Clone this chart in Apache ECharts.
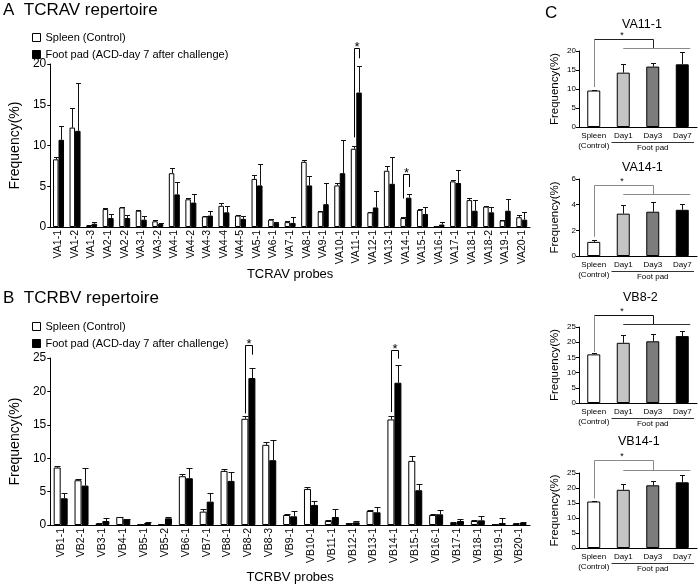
<!DOCTYPE html>
<html><head><meta charset="utf-8">
<script src="https://cdn.jsdelivr.net/npm/echarts@6.0.0/dist/echarts.min.js"></script>
<style>html,body{margin:0;padding:0;background:#fff}#c{width:699px;height:587px}</style>
</head><body><div id="c"></div>
<script>
// ---------- Panel A: TCRAV ----------
const vaCategories = ['VA1-1','VA1-2','VA1-3','VA2-1','VA2-2','VA3-1','VA3-2','VA4-1','VA4-2','VA4-3','VA4-4','VA4-5','VA5-1','VA6-1','VA7-1','VA8-1','VA9-1','VA10-1','VA11-1','VA12-1','VA13-1','VA14-1','VA15-1','VA16-1','VA17-1','VA18-1','VA18-2','VA19-1','VA20-1'];
const vaSpleen      = [8.3,12.2,0.2,2.2,2.4,2.0,0.7,6.6,3.4,1.3,2.6,1.4,5.9,0.9,0.6,8.0,1.9,5.1,9.6,1.8,6.9,1.1,2.1,0.1,5.6,3.3,2.5,0.8,1.2];
const vaSpleenUpper = [8.6,14.6,0.3,2.3,2.5,2.05,0.8,7.2,3.5,1.35,2.9,1.5,6.4,1.0,0.7,8.2,2.0,5.4,9.9,1.9,7.5,1.2,2.2,0.15,5.8,3.6,2.55,0.9,1.5];
const vaFootpad      = [10.7,11.8,0.4,1.1,1.1,0.9,0.4,4.0,3.0,1.4,1.8,1.0,5.1,0.5,0.5,5.1,2.8,6.6,16.5,2.4,5.3,3.6,1.6,0.3,5.4,2.0,1.8,2.0,0.9];
const vaFootpadUpper = [12.4,17.7,0.6,1.6,1.5,1.4,0.5,5.5,4.1,2.0,2.6,1.3,7.7,0.6,1.2,6.2,5.4,10.7,19.8,4.4,8.6,4.0,2.4,0.6,7.0,3.3,2.4,3.4,1.8];
const vaSigCats   = ['VA11-1','VA14-1'];
const vaSigLeft   = [11.0, 3.5];
const vaSigTop    = [22.0, 6.5];
const vaSigRight  = [20.7, 4.9];

// ---------- Panel B: TCRBV ----------
const vbCategories = ['VB1-1','VB2-1','VB3-1','VB4-1','VB5-1','VB5-2','VB6-1','VB7-1','VB8-1','VB8-2','VB8-3','VB9-1','VB10-1','VB11-1','VB12-1','VB13-1','VB14-1','VB15-1','VB16-1','VB17-1','VB18-1','VB19-1','VB20-1'];
const vbSpleen      = [8.6,6.7,0.2,1.2,0.1,0.1,7.3,2.0,8.1,15.9,12.0,1.5,5.4,0.6,0.3,2.1,15.8,9.6,1.5,0.3,0.6,0.1,0.2];
const vbSpleenUpper = [8.8,6.9,0.25,1.25,0.15,0.15,7.6,2.4,8.4,16.3,12.5,1.6,5.7,0.7,0.35,2.2,16.3,10.3,1.6,0.4,0.8,0.15,0.25];
const vbFootpad      = [4.0,5.9,0.6,0.9,0.3,1.0,7.0,3.5,6.6,22.0,9.7,1.3,3.0,1.2,0.4,1.9,21.3,5.2,1.6,0.6,0.7,0.3,0.3];
const vbFootpadUpper = [4.8,8.6,1.1,0.95,0.5,1.15,8.6,4.8,7.9,23.5,12.7,2.1,3.6,2.4,0.6,2.7,23.9,6.2,2.3,0.9,1.4,1.1,0.4];
const vbSigCats  = ['VB8-2','VB14-1'];
const vbSigLeft  = [16.7, 16.9];
const vbSigTop   = [27.0, 26.2];
const vbSigRight = [25.5, 24.9];

// ---------- Panel C ----------
const cGroups = ['Spleen\n(Control)','Day1','Day3','Day7'];
const cTitles = ['VA11-1','VA14-1','VB8-2','VB14-1'];
const va111Mean  = [9.6,14.3,15.9,16.5];
const va111Upper = [9.8,16.6,16.8,19.8];
const va141Mean  = [1.1,3.3,3.45,3.6];
const va141Upper = [1.25,4.0,4.2,4.05];
const vb82Mean   = [16.0,19.8,20.3,22.0];
const vb82Upper  = [16.4,22.3,22.8,23.7];
const vb141Mean  = [15.5,19.4,20.9,21.9];
const vb141Upper = [15.8,21.3,22.2,24.2];
// significance bracket: [left leg bottom, top line, lower line]
const va111Sig = [10.5,23.1,20.9];
const va141Sig = [1.5,5.5,4.8];
const vb82Sig  = [16.8,29.0,26.1];
const vb141Sig = [16.5,29.2,25.9];
const cYMax = [20,6,25,25];
const cYStep = [5,2,5,5];

const FONT = 'Liberation Sans, Arial, sans-serif';
const chart = echarts.init(document.getElementById('c'));

function errSeries(gi, means, uppers, side, halfW, capW) {
  return {
    type:'custom', xAxisIndex:gi, yAxisIndex:gi, clip:false, silent:true, z:4,
    data: means.map((m,i)=>[i,m,uppers[i]]),
    encode:{x:0,y:[1,2]},
    renderItem(params, api){
      const a = api.coord([api.value(0), api.value(1)]);
      const b = api.coord([api.value(0), api.value(2)]);
      const x = Math.round(a[0] + side*halfW) + 0.5;
      const yb = Math.round(b[1]) + 0.5;
      return {type:'group', children:[
        {type:'line', shape:{x1:x,y1:a[1],x2:x,y2:yb}, style:{stroke:'#111',lineWidth:1}},
        {type:'line', shape:{x1:x-capW/2,y1:yb,x2:x+capW/2,y2:yb}, style:{stroke:'#111',lineWidth:1}}
      ]};
    }
  };
}

function sigSeries(gi, cats, sigCats, lows, tops, highs, halfW) {
  return {
    type:'custom', xAxisIndex:gi, yAxisIndex:gi, clip:false, silent:true, z:6,
    data: sigCats.map((c,i)=>[cats.indexOf(c), lows[i], tops[i], highs[i]]),
    encode:{x:0,y:[1,2,3]},
    renderItem(params, api){
      const idx = api.value(0);
      const pL = api.coord([idx, api.value(1)]);
      const pT = api.coord([idx, api.value(2)]);
      const pR = api.coord([idx, api.value(3)]);
      const xl = Math.round(pT[0]-halfW)+0.5, xr = Math.round(pT[0]+halfW)+0.5;
      const yt = Math.round(pT[1])+0.5;
      return {type:'group', children:[
        {type:'polyline', shape:{points:[[xl,pL[1]],[xl,yt],[xr,yt],[xr,pR[1]]]}, style:{stroke:'#000',fill:null,lineWidth:1}},
        {type:'text', x:(xl+xr)/2, y:yt-1, style:{text:'*', fontSize:13, fontFamily:FONT, fill:'#000', align:'center', verticalAlign:'middle', textAlign:'center', textVerticalAlign:'middle'}}
      ]};
    }
  };
}

function cAnnot(gi, sig, cols) {
  return {
    type:'custom', xAxisIndex:gi, yAxisIndex:gi, clip:false, silent:true, z:6,
    data:[[0, sig[0], sig[1], sig[2]]],
    encode:{x:0,y:[1,2,3]},
    renderItem(params, api){
      const lb = api.value(1), tp = api.value(2), lw = api.value(3);
      const catW = api.size([1,0])[0];
      const x0 = Math.round(api.coord([0,tp])[0])+0.5;
      const x1 = api.coord([1,lw])[0];
      const x2 = Math.round(api.coord([2,tp])[0])+0.5;
      const x3 = api.coord([3,lw])[0];
      const yLb = api.coord([0,lb])[1];
      const yT = Math.round(api.coord([0,tp])[1])+0.5;
      const yL = Math.round(api.coord([0,lw])[1])+0.5;
      const y0 = api.coord([0,0])[1];
      const fx1 = api.coord([1,0])[0] - catW/2 + 3;
      const fx3 = api.coord([3,0])[0] + catW/2 - 3;
      const fy = Math.round(y0 + 15)+0.5;
      return {type:'group', children:[
        {type:'line', shape:{x1:x0,y1:yLb,x2:x0,y2:yT}, style:{stroke:cols[0],lineWidth:1}},
        {type:'polyline', shape:{points:[[x0,yT],[x2,yT],[x2,yL]]}, style:{stroke:cols[1],fill:null,lineWidth:1}},
        {type:'line', shape:{x1:x1,y1:yL,x2:x3+8,y2:yL}, style:{stroke:cols[2],lineWidth:1}},
        {type:'text', x:(x0+x2)/2-2, y:yT-4, style:{text:'*', fontSize:9, fontFamily:FONT, fill:'#000', align:'center', verticalAlign:'middle', textAlign:'center', textVerticalAlign:'middle'}},
        {type:'line', shape:{x1:fx1,y1:fy,x2:fx3,y2:fy}, style:{stroke:'#333',lineWidth:1}},
        {type:'text', x:api.coord([2,0])[0], y:y0+20.5, style:{text:'Foot pad', fontSize:8, fontFamily:FONT, fill:'#000', align:'center', verticalAlign:'middle', textAlign:'center', textVerticalAlign:'middle'}}
      ]};
    }
  };
}

const axisLine = {show:true, lineStyle:{color:'#000', width:1}};
const grids = [
  {left:44, top:64, width:486, height:163},
  {left:42, top:358, width:488, height:167},
  {left:579, top:51, width:118, height:76},
  {left:579, top:179, width:118, height:77},
  {left:579, top:327, width:118, height:76},
  {left:579, top:473, width:118, height:75}
];

const xAxes = [
  {type:'category', gridIndex:0, data:vaCategories, axisLine, axisTick:{show:false},
   axisLabel:{rotate:90, interval:0, fontSize:10.5, color:'#000', margin:3, fontFamily:FONT},
   name:'TCRAV probes', nameLocation:'middle', nameGap:36, nameTextStyle:{fontSize:13, color:'#000', fontFamily:FONT}},
  {type:'category', gridIndex:1, data:vbCategories, axisLine, axisTick:{show:false},
   axisLabel:{rotate:90, interval:0, fontSize:10.5, color:'#000', margin:3, fontFamily:FONT},
   name:'TCRBV probes', nameLocation:'middle', nameGap:46, nameTextStyle:{fontSize:13, color:'#000', fontFamily:FONT}}
];
const yAxes = [
  {type:'value', gridIndex:0, min:0, max:20, interval:5, axisLine, axisTick:{show:true, length:3, lineStyle:{color:'#000'}},
   splitLine:{show:false}, axisLabel:{fontSize:12, color:'#000', margin:4, fontFamily:FONT},
   name:'Frequency(%)', nameLocation:'middle', nameGap:25, nameRotate:90, nameTextStyle:{fontSize:14, color:'#000', fontFamily:FONT}},
  {type:'value', gridIndex:1, min:0, max:25, interval:5, axisLine, axisTick:{show:true, length:3, lineStyle:{color:'#000'}},
   splitLine:{show:false}, axisLabel:{fontSize:12, color:'#000', margin:4, fontFamily:FONT},
   name:'Frequency(%)', nameLocation:'middle', nameGap:23, nameRotate:90, nameTextStyle:{fontSize:14, color:'#000', fontFamily:FONT}}
];
for (let k=0;k<4;k++){
  xAxes.push({type:'category', gridIndex:2+k, data:cGroups, axisLine, axisTick:{show:false},
    axisLabel:{interval:0, fontSize:8, lineHeight:10, color:'#000', margin:4, fontFamily:FONT}});
  yAxes.push({type:'value', gridIndex:2+k, min:0, max:cYMax[k], interval:cYStep[k], axisLine,
    axisTick:{show:true, length:3, lineStyle:{color:'#000'}}, splitLine:{show:false},
    axisLabel:{fontSize:8, color:'#000', margin:3, fontFamily:FONT},
    name:'Frequency(%)', nameLocation:'middle', nameGap:18, nameRotate:90, nameTextStyle:{fontSize:11.5, color:'#000', fontFamily:FONT}});
}

const whiteStyle = {color:'#fff', borderColor:'#000', borderWidth:1};
const blackStyle = {color:'#000', borderColor:'#000', borderWidth:1};
const S = 'Spleen (Control)', F = 'Foot pad (ACD-day 7 after challenge)';
const series = [
  {type:'bar', name:S, xAxisIndex:0, yAxisIndex:0, data:vaSpleen, barWidth:5.5, barGap:'0%', itemStyle:whiteStyle, silent:true},
  {type:'bar', name:F, xAxisIndex:0, yAxisIndex:0, data:vaFootpad, barWidth:5.5, barGap:'0%', itemStyle:blackStyle, silent:true},
  errSeries(0, vaSpleen, vaSpleenUpper, -1, 2.75, 5),
  errSeries(0, vaFootpad, vaFootpadUpper, 1, 2.75, 5),
  sigSeries(0, vaCategories, vaSigCats, vaSigLeft, vaSigTop, vaSigRight, 2.75),
  {type:'bar', name:S, xAxisIndex:1, yAxisIndex:1, data:vbSpleen, barWidth:7, barGap:'0%', itemStyle:whiteStyle, silent:true},
  {type:'bar', name:F, xAxisIndex:1, yAxisIndex:1, data:vbFootpad, barWidth:7, barGap:'0%', itemStyle:blackStyle, silent:true},
  errSeries(1, vbSpleen, vbSpleenUpper, -1, 3.5, 6),
  errSeries(1, vbFootpad, vbFootpadUpper, 1, 3.5, 6),
  sigSeries(1, vbCategories, vbSigCats, vbSigLeft, vbSigTop, vbSigRight, 3.5)
];
const cMeans = [va111Mean, va141Mean, vb82Mean, vb141Mean];
const cUppers = [va111Upper, va141Upper, vb82Upper, vb141Upper];
const cSigs = [va111Sig, va141Sig, vb82Sig, vb141Sig];
const cFill = ['#ffffff','#c4c4c4','#7c7c7c','#000000'];
const cBracketCols = [['#8a8a8a','#222','#8a8a8a'],['#8a8a8a','#8a8a8a','#8a8a8a'],['#8a8a8a','#111','#333'],['#8a8a8a','#8a8a8a','#8a8a8a']];
for (let k=0;k<4;k++){
  series.push({type:'bar', name:cTitles[k], xAxisIndex:2+k, yAxisIndex:2+k, barWidth:13, silent:true,
    data: cMeans[k].map((v,i)=>({value:v, itemStyle:{color:cFill[i], borderColor:'#000', borderWidth:1}}))});
  series.push(errSeries(2+k, cMeans[k], cUppers[k], 0, 0, 5));
  series.push(cAnnot(2+k, cSigs[k], cBracketCols[k]));
}

const ttl = (text, left, top, size) => ({text, left, top, textStyle:{fontSize:size, fontWeight:'normal', color:'#000', fontFamily:FONT}, padding:0});
const legendBase = {data:[S,F], orient:'vertical', left:27, itemWidth:8, itemHeight:8, itemGap:6, icon:'rect', selectedMode:false,
  itemStyle:{borderWidth:1, borderColor:'#000'},
  textStyle:{fontSize:11, color:'#000', fontFamily:FONT, lineHeight:10}};

chart.setOption({
  animation:false,
  backgroundColor:'#fff',
  title:[
    ttl('A  TCRAV repertoire', 3, 2, 17),
    ttl('B  TCRBV repertoire', 3, 290, 17),
    ttl('C', 545, 5, 17),
    ttl(cTitles[0], 622, 18, 12.5),
    ttl(cTitles[1], 622, 161, 12.5),
    ttl(cTitles[2], 623, 291, 12.5),
    ttl(cTitles[3], 618, 435, 12.5)
  ],
  legend:[Object.assign({top:27}, legendBase), Object.assign({top:316}, legendBase)],
  grid:grids, xAxis:xAxes, yAxis:yAxes, series
});
</script></body></html>
